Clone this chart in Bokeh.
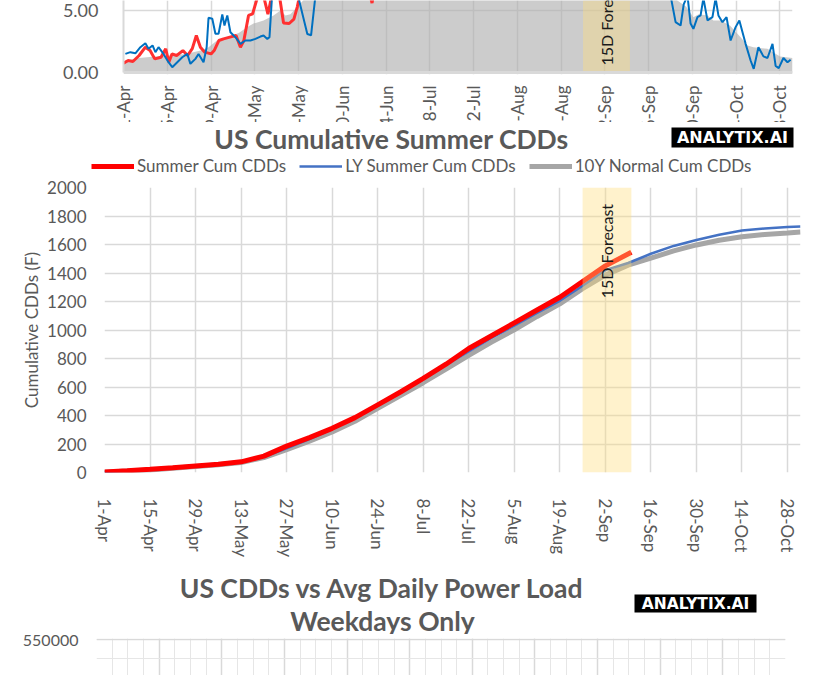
from math import pi
from bokeh.plotting import figure
from bokeh.models import (Range1d, FixedTicker, NumeralTickFormatter, BoxAnnotation, Label,
                          ColumnDataSource, Legend, LegendItem, Span)
from bokeh.layouts import column
from bokeh.embed import file_html
from bokeh.resources import INLINE
from bokeh.core.properties import value

# ---------------- data ----------------
# x positions are days since 1-Apr
tick_days = [0, 14, 28, 42, 56, 70, 84, 98, 112, 126, 140, 154, 168, 182, 196, 210]
tick_labels = ["1-Apr", "15-Apr", "29-Apr", "13-May", "27-May", "10-Jun", "24-Jun", "8-Jul",
               "22-Jul", "5-Aug", "19-Aug", "2-Sep", "16-Sep", "30-Sep", "14-Oct", "28-Oct"]
season_end = 214          # 1-Nov
fc_start, fc_end = 147, 162   # 15-day forecast window (26-Aug .. 10-Sep)

# --- daily CDDs (top chart, only the low part is visible) ---
ty_days = [0, 1.5, 3, 5, 7, 8.5, 10, 12, 13.5, 14.5, 15.5, 17, 19, 20.5, 22, 23.3, 24.6, 26, 28, 29,
           30.5, 32, 34, 36, 37.4, 38.5, 40, 41.3, 43, 44.5, 46.2, 47.6, 49.5, 51.2, 53, 54.5, 55.6,
           57, 62, 66, 70, 75, 79.5, 84, 90, 98, 105, 112, 119, 126, 133, 140, 147, 154, 162]
ty_daily = [0.75, 0.97, 0.89, 1.37, 2.04, 1.77, 1.1, 1.23, 1.91, 0.83, 1.5, 1.37, 1.77, 1.37, 1.93,
            2.98, 2.04, 1.64, 1.5, 1.77, 2.58, 2.71, 2.85, 2.98, 2.04, 2.58, 4.6, 4.73, 6.2, 6.5,
            4.7, 6.4, 6.8, 4.0, 3.95, 4.3, 5.3, 7.0, 8.6, 7.8, 9.2, 10.5, 5.6, 12.0, 13.2, 14.5,
            13.8, 15.2, 14.0, 13.5, 12.8, 14.2, 15.8, 14.5, 12.0]

ly_days = [0.6, 2.2, 3.8, 5.4, 7, 8, 9.3, 10.2, 11.2, 12.8, 14.4, 15.6, 17.2, 18.8, 20.4, 21.4, 23,
           24, 25.6, 26.6, 27.2, 28.4, 29.4, 30.4, 31.6, 32.3, 33.2, 34.2, 35.8, 37.4, 39, 40.6,
           42.2, 43.8, 44.8, 46, 46.7, 47.6, 50, 53.4, 56, 58.8, 60, 61.4, 65, 70, 77, 84, 91, 98,
           105, 112, 119, 126, 133, 140, 147, 154, 161, 168, 172, 175, 176.6, 178.2, 179.2, 180.4,
           181.4, 182.3, 183.6, 184.6, 185.5, 186.8, 188.4, 189.4, 190.3, 191.6, 192.9, 194.2,
           195.8, 197, 199, 200.6, 201.6, 203.1, 204.7, 206, 207.6, 208.6, 209.6, 211.1, 212.4, 213.4]
ly_daily = [1.5, 1.64, 1.55, 2.04, 2.36, 1.91, 2.18, 1.64, 2.04, 1.5, 0.83, 0.43, 0.83, 1.23, 1.5,
            0.7, 1.1, 1.5, 0.83, 2.04, 4.41, 4.33, 3.12, 3.12, 4.68, 3.79, 4.6, 3.25, 2.85, 2.31,
            2.58, 2.58, 2.71, 2.9, 2.98, 2.71, 2.85, 6.5, 7.2, 6.0, 6.0, 3.1, 3.0, 6.2, 7.5, 8.8,
            10.5, 12.0, 13.5, 14.2, 13.0, 14.8, 13.6, 14.5, 13.2, 12.5, 13.8, 11.5, 10.8, 9.5, 7.0,
            6.2, 4.06, 3.79, 5.5, 6.2, 3.95, 3.52, 4.46, 4.6, 6.0, 4.2, 4.46, 6.0, 4.6, 4.06, 4.46,
            2.58, 3.66, 4.2, 2.31, 0.97, 0.3, 2.04, 1.3, 1.17, 2.31, 0.53, 0.36, 1.17, 0.83, 1.03]

norm_days = [0, 5, 10, 15, 20, 25, 27, 30, 34, 37, 39.6, 41.6, 44.8, 48, 50.2, 51.8, 53.4, 55.6,
             60, 70, 84, 98, 112, 126, 140, 154, 165, 175, 180, 182.3, 184, 186.8, 188.7, 191,
             194, 197.4, 199.6, 201.5, 206, 210, 214]
norm_daily = [0.9, 1.17, 1.3, 1.37, 1.5, 1.8, 2.0, 2.6, 2.9, 3.2, 3.66, 3.95, 4.2, 4.6, 5.0, 4.6,
              4.7, 5.3, 6.5, 8.5, 10.5, 12.0, 13.0, 12.8, 12.0, 10.0, 7.5, 6.2, 5.3, 4.46, 4.7,
              4.6, 4.2, 4.2, 3.79, 2.85, 2.18, 2.04, 1.91, 1.3, 1.17]

# --- cumulative CDDs (middle chart) ---
cum_days = [0, 7, 14, 21, 28, 35, 42, 49, 56, 63, 70, 77, 84, 91, 98, 105, 112, 119, 126, 133,
            140, 147, 154, 161, 168, 175, 182, 189, 196, 203, 210, 214]
ly_cum = [4, 14, 24, 32, 42, 60, 78, 110, 170, 235, 305, 385, 470, 560, 655, 755, 850, 945, 1030,
          1120, 1205, 1310, 1420, 1470, 1535, 1590, 1632, 1668, 1698, 1713, 1722, 1727]
norm_cum = [2, 10, 18, 30, 42, 55, 70, 105, 160, 220, 285, 360, 450, 540, 630, 725, 822, 915,
            1002, 1095, 1183, 1290, 1385, 1455, 1505, 1555, 1597, 1630, 1655, 1670, 1680, 1688]
ty_cum_days = [0, 7, 14, 21, 28, 35, 42, 49, 56, 63, 70, 77, 84, 91, 98, 105, 112, 119, 126, 133,
               140, 147, 154, 162]
ty_cum = [3, 12, 22, 33, 46, 58, 75, 115, 185, 245, 310, 385, 475, 565, 660, 760, 870, 960, 1050,
          1140, 1230, 1340, 1450, 1545]

cum_yticks = [0, 200, 400, 600, 800, 1000, 1200, 1400, 1600, 1800, 2000]
daily_yticks = [0, 5, 10, 15]

# bottom chart (only its top strip is visible)
load_yticks = [300000, 350000, 400000, 450000, 500000, 550000]
load_yminor = [512500, 525000, 537500, 550000]
cdd_xticks = [0, 2, 4, 6, 8, 10, 12, 14, 16, 18, 20, 22]
cdd_xminor = [0, 0.5, 1, 1.5, 2, 2.5, 3, 3.5, 4, 4.5, 5, 5.5, 6, 6.5, 7, 7.5, 8, 8.5, 9, 9.5, 10,
              10.5, 11, 11.5, 12, 12.5, 13, 13.5, 14, 14.5, 15, 15.5, 16, 16.5, 17, 17.5, 18,
              18.5, 19, 19.5, 20, 20.5, 21, 21.5, 22]

# ---------------- style / layout ----------------
FONT = "Lato"
TXT = "#595959"
GRID = "#d9d9d9"
BAND = "#ffde7c"
W = 823
TOP_L, TOP_R = 123, 31
TOP_PPD = (W - TOP_L - TOP_R) / season_end


def fig(**kw):
    f = figure(output_backend="svg", toolbar_location=None, frame_align=False, **kw)
    f.outline_line_color = None
    f.background_fill_color = "white"
    f.border_fill_color = "white"
    return f


def style(f):
    for ax in f.axis:
        ax.major_tick_line_color = None
        ax.minor_tick_line_color = None
        ax.major_label_text_font = FONT
        ax.major_label_text_color = TXT
        ax.axis_label_text_font = FONT
        ax.axis_label_text_color = TXT
        ax.axis_label_text_font_style = "normal"
    for g in f.grid:
        g.grid_line_color = GRID
        g.grid_line_width = 1.5


def header(h):
    f = fig(width=W, height=h, x_range=Range1d(0, W), y_range=Range1d(0, h),
            x_axis_location=None, y_axis_location=None, min_border=0)
    f.grid.visible = False
    return f


def logo(f, left, right, bottom, top, size):
    f.add_layout(BoxAnnotation(left=left, right=right, bottom=bottom, top=top,
                               fill_color="black", fill_alpha=1, line_color=None))
    f.add_layout(Label(x=(left + right) / 2, y=(bottom + top) / 2, text="ANALYTIX.AI",
                       text_color="white", text_font="DejaVu Sans", text_font_style="bold",
                       text_font_size=size, text_align="center", text_baseline="middle"))


def title(f, x, y, text):
    f.add_layout(Label(x=x, y=y, text=text, text_font=FONT, text_font_style="bold",
                       text_font_size="26.5px", text_color=TXT, text_align="center",
                       text_baseline="middle"))


# ---------------- top chart: daily CDDs ----------------
top = fig(width=W, height=84, x_range=Range1d(0, season_end), y_range=Range1d(-0.16, 5.806),
          min_border_left=TOP_L, min_border_right=TOP_R, min_border_top=0, min_border_bottom=10)
top.varea(x=norm_days, y1=0, y2=norm_daily, fill_color="#aeaeae", fill_alpha=0.63)
top.line(ty_days, ty_daily, line_color="#ff3030", line_width=3)
top.line(ly_days, ly_daily, line_color="#0070c0", line_width=2)
top.add_layout(BoxAnnotation(left=fc_start, right=fc_end, bottom=0, fill_color=BAND,
                             fill_alpha=0.39, line_color=None))
top.add_layout(Label(x=(fc_start + fc_end) / 2, y=0.56, text="15D Forecast", angle=pi / 2,
                     text_align="left", text_baseline="middle", text_font=FONT,
                     text_font_size="16px", text_color="#1a1a1a"))
top.xaxis.ticker = FixedTicker(ticks=tick_days)
top.xaxis.visible = False
top.yaxis.ticker = FixedTicker(ticks=daily_yticks)
top.yaxis.formatter = NumeralTickFormatter(format="0.00")
style(top)
top.ygrid.bounds = (0, 20)
top.yaxis.bounds = (0, 20)
top.yaxis.axis_line_color = GRID
top.yaxis.axis_line_width = 2
top.yaxis.major_label_text_font_size = "18px"
top.yaxis.major_label_standoff = 19
top.add_layout(Span(location=0, dimension="width", line_color=GRID, line_width=3))

# tick labels of the top chart (they are cut by the chart's lower edge)
lbl = fig(width=W, height=38,
          x_range=Range1d(-TOP_L / TOP_PPD, season_end + TOP_R / TOP_PPD),
          y_range=Range1d(0, 38), x_axis_location=None, y_axis_location=None, min_border=0)
lbl.grid.visible = False
lbl.text(x=tick_days, y=37, text=tick_labels, angle=pi / 2, text_align="right",
         text_baseline="middle", text_font=value(FONT), text_font_size="17px", text_color=TXT)

# ---------------- middle chart header ----------------
hm = header(58)
title(hm, 391, 42, "US Cumulative Summer CDDs")
logo(hm, 671, 793, 33, 53, "16px")
off = dict(x=[-20, -10], y=[-20, -20])   # legend-only renderers, outside the header view
d_ty = hm.line("x", "y", source=ColumnDataSource(off), line_color="#ff0000", line_width=5)
d_ly = hm.line("x", "y", source=ColumnDataSource(off), line_color="#4472c4", line_width=2.5)
d_nm = hm.line("x", "y", source=ColumnDataSource(off), line_color="#a6a6a6", line_width=5)
hm.add_layout(Legend(items=[LegendItem(label="Summer Cum CDDs", renderers=[d_ty]),
                            LegendItem(label="LY Summer Cum CDDs", renderers=[d_ly]),
                            LegendItem(label="10Y Normal Cum CDDs", renderers=[d_nm])],
                     orientation="horizontal", location=(91, 4), glyph_width=43,
                     glyph_height=20, label_standoff=3, spacing=13, padding=0, margin=0,
                     border_line_color=None, background_fill_alpha=0, label_text_font=FONT,
                     label_text_font_size="17px", label_text_color=TXT))

# ---------------- middle chart: cumulative CDDs ----------------
mid = fig(width=W, height=380, x_range=Range1d(0, season_end), y_range=Range1d(0, 2000),
          min_border_left=104, min_border_right=23, min_border_top=7, min_border_bottom=77)
mid.line(cum_days, norm_cum, line_color="#a6a6a6", line_width=5)
mid.line(cum_days, ly_cum, line_color="#4472c4", line_width=2.5)
mid.line(ty_cum_days, ty_cum, line_color="#ff0000", line_width=5)
mid.add_layout(BoxAnnotation(left=fc_start, right=fc_end, fill_color=BAND, fill_alpha=0.39,
                             line_color=None))
mid.add_layout(Label(x=(fc_start + fc_end) / 2, y=1222, text="15D Forecast", angle=pi / 2,
                     text_align="left", text_baseline="middle", text_font=FONT,
                     text_font_size="16px", text_color="#1a1a1a"))
mid.xaxis.ticker = FixedTicker(ticks=tick_days)
mid.xaxis.major_label_overrides = {d: l for d, l in zip(tick_days, tick_labels)}
mid.xaxis.major_label_orientation = "vertical"
mid.yaxis.ticker = FixedTicker(ticks=cum_yticks)
mid.yaxis.axis_label = "Cumulative CDDs (F)"
style(mid)
for ax in mid.axis:
    ax.axis_line_color = None
    ax.major_label_text_font_size = "17px"
mid.xaxis.major_label_standoff = 20
mid.yaxis.major_label_standoff = 12
mid.yaxis.axis_label_text_font_size = "17px"
mid.yaxis.axis_label_standoff = 2

# ---------------- bottom chart header ----------------
hb = header(74)
title(hb, 382, 47, "US CDDs vs Avg Daily Power Load")
title(hb, 382, 14, "Weekdays Only")
logo(hb, 634, 756, 22, 40, "15.5px")

# ---------------- bottom chart (top strip only) ----------------
bot = fig(width=W, height=41, x_range=Range1d(0, 22), y_range=Range1d(526316, 550658),
          min_border_left=96, min_border_right=38, min_border_top=4, min_border_bottom=0)
bot.xaxis.ticker = FixedTicker(ticks=cdd_xticks, minor_ticks=cdd_xminor)
bot.yaxis.ticker = FixedTicker(ticks=load_yticks, minor_ticks=load_yminor)
bot.yaxis.formatter = NumeralTickFormatter(format="0")
style(bot)
bot.xaxis.visible = False
bot.yaxis.axis_line_color = None
bot.yaxis.major_label_text_font_size = "16px"
bot.yaxis.major_label_standoff = 12
for g in bot.grid:
    g.minor_grid_line_color = "#e6e6e6"
    g.minor_grid_line_width = 1
bot.xgrid.ticker = FixedTicker(ticks=cdd_xticks, minor_ticks=cdd_xminor)

layout = column(top, lbl, hm, mid, hb, bot, spacing=0)
open("out.html", "w").write(file_html(layout, INLINE))
